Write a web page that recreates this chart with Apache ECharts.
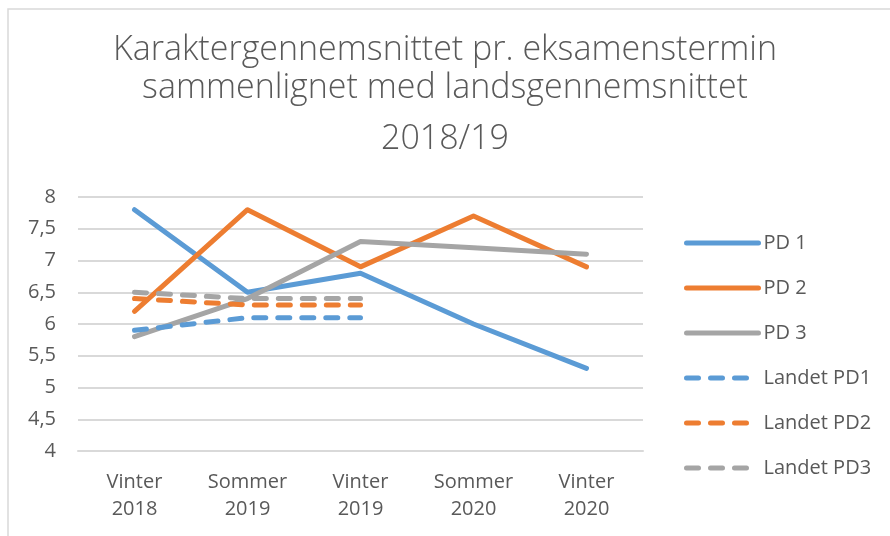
<!DOCTYPE html>
<html>
<head>
<meta charset="utf-8">
<script src="https://cdn.jsdelivr.net/npm/echarts@6/dist/echarts.min.js"></script>
<style>
  html, body { margin: 0; padding: 0; background: #fff; }
  #chart { width: 890px; height: 536px; }
</style>
</head>
<body>
<div id="chart"></div>
<script>
var categories = ['Vinter\n2018', 'Sommer\n2019', 'Vinter\n2019', 'Sommer\n2020', 'Vinter\n2020'];
var pd1 = [7.8, 6.5, 6.8, 6.0, 5.3];
var pd2 = [6.2, 7.8, 6.9, 7.7, 6.9];
var pd3 = [5.8, 6.4, 7.3, 7.2, 7.1];
var landetPd1 = [5.9, 6.1, 6.1];
var landetPd2 = [6.4, 6.3, 6.3];
var landetPd3 = [6.5, 6.4, 6.4];

var blue = '#5B9BD5', orange = '#ED7D31', grey = '#A5A5A5';
var textColor = '#595959';
var labelFont = 'Open Sans';

function line(name, data, color, dashed) {
  return {
    name: name,
    type: 'line',
    data: data,
    symbol: 'none',
    lineStyle: {
      color: color,
      width: 5,
      cap: 'round',
      join: 'round',
      type: dashed ? [12, 12] : 'solid'
    },
    itemStyle: { color: color }
  };
}

function legendItem(name, dashed) {
  return {
    name: name,
    lineStyle: { type: dashed ? [12, 12] : 'solid', width: 5, cap: 'round' }
  };
}

var chart = echarts.init(document.getElementById('chart'));
chart.setOption({
  animation: false,
  backgroundColor: '#fff',
  graphic: [{
    type: 'polyline',
    shape: { points: [[8, 536], [8, 9], [890, 9]] },
    style: { fill: 'none', stroke: '#D9D9D9', lineWidth: 1.5 }
  }],
  title: [{
    text: 'Karaktergennemsnittet pr. eksamenstermin\nsammenlignet med landsgennemsnittet',
    left: 'center',
    top: 26,
    textStyle: { fontFamily: 'Open Sans', fontWeight: 300, fontSize: 34, color: textColor, lineHeight: 38 }
  }, {
    text: '2018/19',
    left: 'center',
    top: 117,
    textStyle: { fontFamily: 'Open Sans', fontWeight: 300, fontSize: 34, color: textColor }
  }],
  legend: {
    orient: 'vertical',
    left: 679,
    top: 228,
    itemGap: 25,
    itemWidth: 72,
    itemHeight: 20,
    itemStyle: { opacity: 0 },
    lineStyle: { width: 5, cap: 'round' },
    textStyle: { fontFamily: labelFont, fontSize: 20, color: textColor },
    data: [
      legendItem('PD 1', false), legendItem('PD 2', false), legendItem('PD 3', false),
      legendItem('Landet PD1', true), legendItem('Landet PD2', true), legendItem('Landet PD3', true)
    ]
  },
  grid: { left: 78, right: 247, top: 197, bottom: 85 },
  xAxis: {
    type: 'category',
    data: categories,
    boundaryGap: true,
    axisLine: { show: true, lineStyle: { color: '#D9D9D9', width: 2 } },
    axisTick: { show: false },
    axisLabel: { fontFamily: labelFont, fontSize: 20, color: textColor, lineHeight: 27, margin: 18 }
  },
  yAxis: {
    type: 'value',
    min: 4,
    max: 8,
    interval: 0.5,
    axisLine: { show: false },
    axisTick: { show: false },
    splitLine: { lineStyle: { color: '#D9D9D9', width: 2 } },
    axisLabel: {
      fontFamily: labelFont, fontSize: 20, color: textColor, margin: 22,
      formatter: function (v) { return String(v).replace('.', ','); }
    }
  },
  series: [
    line('PD 1', pd1, blue, false),
    line('PD 2', pd2, orange, false),
    line('PD 3', pd3, grey, false),
    line('Landet PD1', landetPd1, blue, true),
    line('Landet PD2', landetPd2, orange, true),
    line('Landet PD3', landetPd3, grey, true)
  ]
});
</script>
</body>
</html>
